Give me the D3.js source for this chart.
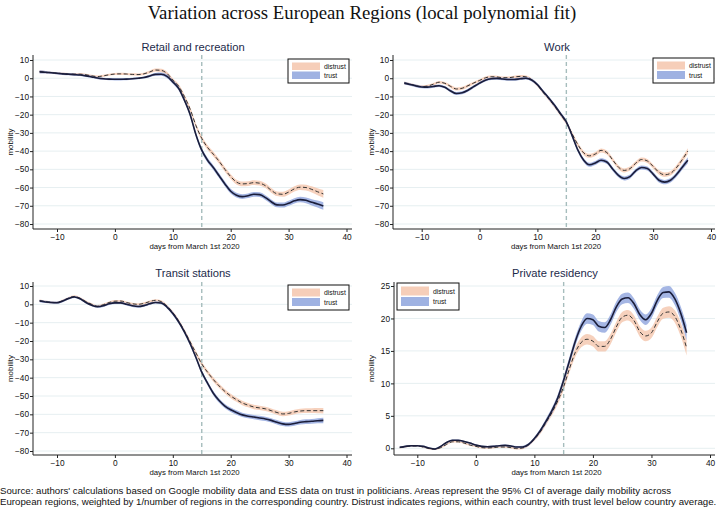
<!DOCTYPE html>
<html><head><meta charset="utf-8">
<script src="https://cdn.jsdelivr.net/npm/d3@7"></script>
<style>body{margin:0;background:#fff}svg{display:block}</style>
</head><body>
<svg id="c" width="720" height="508"></svg>
<script>
const days = [-13,-12,-11,-10,-9,-8,-7,-6,-5,-4,-3,-2,-1,0,1,2,3,4,5,6,7,8,9,10,11,12,13,14,15,16,17,18,19,20,21,22,23,24,25,26,27,28,29,30,31,32,33,34,35,36];

const retailTrust = [3.5,3.3,3.0,2.7,2.4,2.2,2.0,1.8,1.3,0.7, 0.1,-0.3,-0.5,-0.6,-0.6,-0.5,-0.3,0.0,0.4,1.2, 2.1,2.2,1.0,-2.0,-5.5,-12,-20,-31,-39.5,-45, -49,-53.5,-58,-62,-64.2,-65,-64.5,-63.7,-63.9,-65.5, -67.8,-69.5,-69.6,-68.6,-67.3,-66.6,-67,-68.1,-69,-70.1];
const retailDistrust = [3.6,3.3,3.0,2.8,2.5,2.3,2.2,2.2,1.9,1.3, 0.9,1.3,1.9,2.3,2.4,2.3,2.1,2.0,2.4,3.4, 4.5,4.3,2.6,-1.0,-4.3,-10,-17,-26,-33,-38, -41.7,-45.6,-50,-54,-57,-58,-57.8,-57.3,-57.6,-59, -61.5,-63.4,-63.7,-62.5,-60.7,-59.8,-60,-61,-62.3,-63.5];
const retailCI = [0.9,0.7,0.6,0.6,0.6,0.6,0.6,0.6,0.6,0.6, 0.6,0.6,0.6,0.6,0.6,0.6,0.6,0.6,0.6,0.7, 0.8,0.9,1.0,1.0,1.1,1.1,1.2,1.2,1.3,1.3, 1.3,1.3,1.3,1.3,1.3,1.3,1.3,1.3,1.3,1.3, 1.3,1.3,1.4,1.4,1.4,1.5,1.6,1.7,1.9,2.1];

const workTrust = [-2.7,-3.4,-4.2,-4.8,-4.9,-4.5,-4.1,-5.0,-7.0,-8.4, -8.0,-6.6,-4.6,-2.7,-1.1,-0.3,-0.1,-0.4,-0.7,-0.7, -0.3,0.0,-1.0,-3.5,-7.3,-11,-15,-19.5,-24,-31.5, -39.5,-45,-47.5,-46.5,-45,-46,-49.8,-53.3,-55,-54, -50.8,-49,-49.6,-52.6,-56,-57,-56,-53,-49,-45];
const workDistrust = [-2.6,-3.3,-4.1,-4.6,-4.3,-3.3,-2.2,-2.8,-4.5,-5.9, -5.5,-4.1,-2.6,-1.2,0.2,0.8,0.7,0.3,0.3,0.7, 1.0,0.8,-0.8,-3.8,-7.8,-11.5,-15.5,-20,-24.5,-30.5, -36.5,-41,-42.6,-41.6,-39.6,-40.8,-44.8,-48.8,-50.6,-49.6, -46.6,-44.6,-45.4,-48.4,-51.6,-53,-52.2,-49.2,-44.8,-40];
const workCI = [0.8,0.7,0.7,0.7,0.7,0.7,0.7,0.7,0.8,0.8, 0.8,0.8,0.7,0.7,0.7,0.7,0.7,0.7,0.7,0.7, 0.7,0.7,0.8,0.8,0.9,0.9,1.0,1.0,1.1,1.1, 1.1,1.1,1.1,1.1,1.1,1.1,1.1,1.1,1.1,1.1, 1.1,1.1,1.1,1.1,1.2,1.2,1.2,1.3,1.4,1.6];

const transitTrust = [1.8,1.3,1.0,0.9,1.8,3.2,4.0,3.0,1.0,-0.5, -1.3,-0.8,0.3,0.8,0.8,0.0,-0.8,-1.2,-0.7,0.3, 1.0,0.7,-1.5,-5.0,-9.5,-15,-21.5,-29,-37,-43, -48.5,-52.5,-55.5,-57.5,-59,-60.3,-61,-61.5,-62,-62.5, -63.3,-64.3,-65.2,-65.5,-65,-64.3,-64,-63.8,-63.5,-63.3];
const transitDistrust = [2.0,1.5,1.1,1.0,2.0,3.4,4.3,3.3,1.5,0.0, -1.0,-0.2,1.0,1.7,1.8,1.0,0.3,0.0,0.5,1.5, 2.2,1.5,-1.0,-4.5,-9.0,-14.5,-20.5,-26.5,-32.5,-37, -41,-44.5,-47.5,-50,-52,-53.8,-55,-56,-56.5,-57, -58,-59,-59.8,-59.5,-58.7,-58.2,-58,-58,-58,-58];
const transitCI = [0.7,0.6,0.6,0.6,0.6,0.6,0.6,0.6,0.6,0.6, 0.6,0.6,0.6,0.6,0.6,0.6,0.6,0.6,0.6,0.6, 0.6,0.7,0.8,0.9,1.0,1.0,1.1,1.1,1.2,1.2, 1.2,1.2,1.2,1.2,1.2,1.2,1.2,1.2,1.2,1.2, 1.2,1.2,1.2,1.2,1.2,1.2,1.3,1.3,1.4,1.5];

const residencyTrust = [0.15,0.3,0.4,0.4,0.3,0.05,-0.1,0.3,0.9,1.25, 1.25,1.05,0.8,0.5,0.3,0.25,0.3,0.4,0.45,0.35, 0.2,0.2,0.6,1.5,2.7,4.2,5.8,7.8,10.5,13.5, 16.5,18.8,20.0,19.8,18.8,18.6,19.8,21.8,23.0,23.2, 22.3,20.6,19.8,20.8,22.8,24.0,24.1,23.0,20.8,17.8];
const residencyDistrust = [0.1,0.25,0.35,0.35,0.2,-0.05,-0.15,0.1,0.6,1.0, 1.0,0.8,0.5,0.3,0.1,0.05,0.1,0.2,0.2,0.1, -0.05,0.05,0.5,1.4,2.5,4.0,5.5,7.3,9.5,12.3, 14.8,16.3,16.8,16.5,15.7,15.7,16.8,18.7,20.2,20.5, 19.7,18.0,17.3,17.8,19.5,20.8,21.0,20.3,18.3,15.5];
const residencyCI = [0.15,0.12,0.12,0.12,0.12,0.12,0.12,0.12,0.12,0.12, 0.12,0.12,0.12,0.12,0.12,0.12,0.12,0.12,0.12,0.12, 0.15,0.18,0.2,0.25,0.3,0.4,0.45,0.5,0.55,0.6, 0.7,0.75,0.8,0.8,0.8,0.8,0.8,0.8,0.8,0.8, 0.8,0.8,0.8,0.8,0.8,0.85,0.9,0.95,1.05,1.2];

const panelTitles = ["Retail and recreation","Work","Transit stations","Private residency"];
const xTicks = [-10,0,10,20,30,40];
const yTicksMain = [10,0,-10,-20,-30,-40,-50,-60,-70,-80];
const yTicksRes = [0,5,10,15,20,25];
const legendLabels = ["distrust","trust"];
const policyDay = 15;
const xTitle = "days from March 1st 2020";
const yTitle = "mobility";
const mainTitle = "Variation across European Regions (local polynomial fit)";
const footer = ["Source: authors' calculations based on Google mobility data and ESS data on trust in politicians. Areas represent the 95% CI of average daily mobility across",
"European regions, weighted by 1/number of regions in the corresponding country. Distrust indicates regions, within each country, with trust level below country average."];

const svg = d3.select("#c");
const FONT = "Liberation Sans, Arial, sans-serif";
const distrustFill = "#f4c6ad", trustFill = "#8ea4dd";
const titleColor = "#1c2a4a";
const gridColor = "#e6eff1";

svg.append("text").attr("x",362).attr("y",19).attr("text-anchor","middle")
  .attr("font-family","Liberation Serif, serif").attr("font-size",18.8).attr("fill","#111").text(mainTitle);

const panels = [
 {t:panelTitles[0], tr:retailTrust, di:retailDistrust, ci:retailCI, yt:yTicksMain, yd:[-80,10], yr:[224,60], xr:[57,346.5], box:[33,352,55,229], tx:193, ty:51, ytx:10, leg:[288,59], legW:61, legH:24},
 {t:panelTitles[1], tr:workTrust, di:workDistrust, ci:workCI, yt:yTicksMain, yd:[-80,10], yr:[224,60], xr:[421.7,711], box:[393,715,55,229], tx:557, ty:51, ytx:371, leg:[653,58], legW:61, legH:25},
 {t:panelTitles[2], tr:transitTrust, di:transitDistrust, ci:transitCI, yt:yTicksMain, yd:[-80,10], yr:[451,286], xr:[57,346.5], box:[33,352,282,455], tx:193, ty:277, ytx:10, leg:[288,285], legW:61, legH:25},
 {t:panelTitles[3], tr:residencyTrust, di:residencyDistrust, ci:residencyCI, yt:yTicksRes, yd:[0,25], yr:[448.3,286], xr:[417.3,710], box:[394,715,282,455], tx:555, ty:277, ytx:371, leg:[397,283], legW:62, legH:27}
];

panels.forEach(p => {
  const g = svg.append("g");
  const x = d3.scaleLinear().domain([-10,40]).range(p.xr);
  const y = d3.scaleLinear().domain(p.yd).range(p.yr);
  const [L,R,T,B] = p.box;
  g.selectAll(".grid").data(p.yt).join("line")
    .attr("x1",L).attr("x2",R).attr("y1",d=>y(d)).attr("y2",d=>y(d))
    .attr("stroke",gridColor).attr("stroke-width",1);
  const area = (vals) => d3.area().curve(d3.curveMonotoneX)
    .x((d,i)=>x(days[i])).y0((d,i)=>y(vals[i]-p.ci[i])).y1((d,i)=>y(vals[i]+p.ci[i]));
  g.append("path").datum(p.di).attr("d",area(p.di)).attr("fill",distrustFill).attr("fill-opacity",0.8);
  g.append("path").datum(p.tr).attr("d",area(p.tr)).attr("fill",trustFill).attr("fill-opacity",0.8);
  g.append("line").attr("x1",x(policyDay)).attr("x2",x(policyDay)).attr("y1",T).attr("y2",B)
    .attr("stroke","#a6bdbd").attr("stroke-width",1.4).attr("stroke-dasharray","4,3");
  const line = d3.line().curve(d3.curveMonotoneX).x((d,i)=>x(days[i])).y(d=>y(d));
  g.append("path").datum(p.di).attr("d",line).attr("fill","none").attr("stroke","#333")
    .attr("stroke-width",1).attr("stroke-dasharray","4,2.5");
  g.append("path").datum(p.tr).attr("d",line).attr("fill","none").attr("stroke","#1a1d3a").attr("stroke-width",1.6);
  const xa = g.append("g").attr("transform",`translate(0,${B})`)
    .call(d3.axisBottom(x).tickValues(xTicks).tickSize(3).tickSizeOuter(0));
  xa.select(".domain").attr("d",`M${L},0H${R}`);
  const ya = g.append("g").attr("transform",`translate(${L},0)`)
    .call(d3.axisLeft(y).tickValues(p.yt).tickSize(3).tickSizeOuter(0));
  ya.select(".domain").attr("d",`M0,${T}V${B}`);
  [xa,ya].forEach(a=>{
    a.selectAll("text").attr("font-family",FONT).attr("font-size",8.3).attr("fill","#111");
    a.selectAll("line").attr("stroke","#222");
    a.select(".domain").attr("stroke","#222");
  });
  xa.selectAll("text").attr("y",10.5).attr("dy",0);
  ya.selectAll("text").attr("x",-4);
  g.append("text").attr("x",(L+R)/2+2).attr("y",B+19.5).attr("text-anchor","middle")
    .attr("font-family",FONT).attr("font-size",7.8).attr("fill","#111").text(xTitle);
  g.append("text").attr("transform",`translate(${p.ytx+3},${(T+B)/2}) rotate(-90)`).attr("text-anchor","middle")
    .attr("font-family",FONT).attr("font-size",8).attr("fill","#111").text(yTitle);
  g.append("text").attr("x",p.tx).attr("y",p.ty).attr("text-anchor","middle")
    .attr("font-family",FONT).attr("font-size",11.2).attr("fill",titleColor).text(p.t);
  const [lx,ly] = p.leg;
  const lg = g.append("g").attr("transform",`translate(${lx},${ly})`);
  lg.append("rect").attr("width",p.legW).attr("height",p.legH).attr("fill","#fff").attr("stroke","#111").attr("stroke-width",1);
  const fills = [distrustFill, trustFill];
  legendLabels.forEach((lab,i)=>{
    const yy = 3 + i*(p.legH-6)/2;
    lg.append("rect").attr("x",4).attr("y",yy+0.5).attr("width",28).attr("height",(p.legH-6)/2-1.5)
      .attr("fill",fills[i]).attr("fill-opacity",0.85);
    lg.append("text").attr("x",36).attr("y",yy+(p.legH-6)/4+2.4).attr("font-family",FONT)
      .attr("font-size",6.8).attr("fill","#111").text(lab);
  });
});

footer.forEach((f,i)=>{
  svg.append("text").attr("x",0).attr("y",494+i*10.5).attr("font-family",FONT)
    .attr("font-size",9.68).attr("fill","#111").text(f);
});
</script>
</body></html>
